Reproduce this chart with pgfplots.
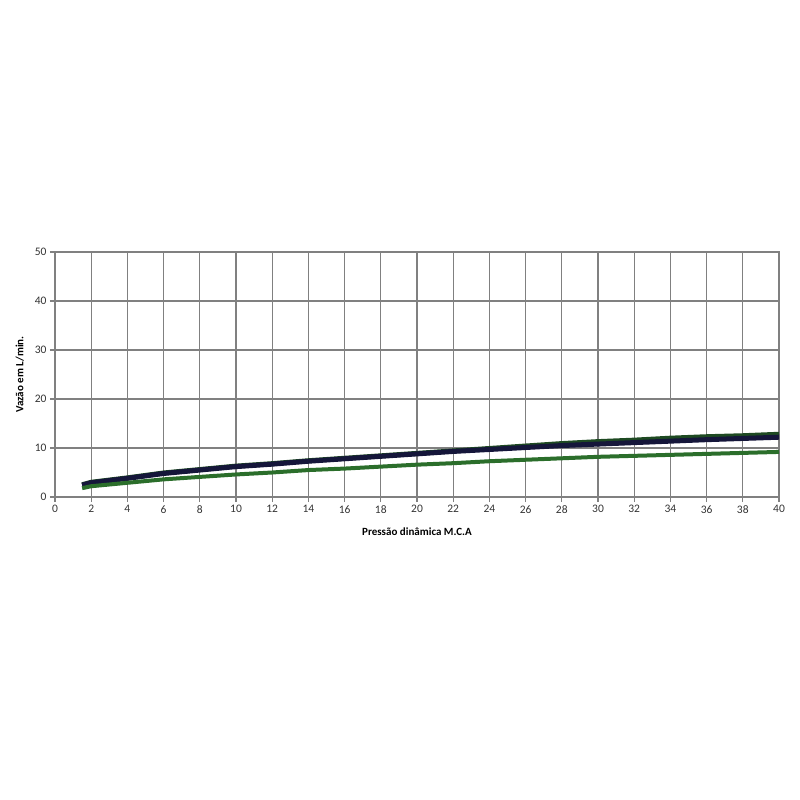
\documentclass[border=0pt]{standalone}
\usepackage{pgfplots}
\pgfplotsset{compat=1.18}
\usepackage{fontspec}
\setmainfont{Carlito}
\definecolor{gridgray}{HTML}{808080}
\definecolor{navyline}{HTML}{15163A}
\definecolor{darkgreen}{HTML}{1E4A22}
\definecolor{lowgreen}{HTML}{2B6E2B}
\begin{document}
\begin{tikzpicture}[font=\fontsize{11.5}{13}\selectfont]
\begin{axis}[
    at={(0,0)}, anchor=south west,
    scale only axis,
    width=724pt, height=245pt,
    xmin=0, xmax=40,
    ymin=0, ymax=50,
    xtick={0,2,...,40},
    ytick={0,10,...,50},
    grid=major,
    grid style={gridgray, line width=1.2pt},
    axis line style={gridgray, line width=1.2pt},
    tick style={gridgray, line width=1.2pt},
    tick align=outside,
    major tick length=5pt,
    xtick pos=bottom, ytick pos=left,
    /pgf/number format/assume math mode=true,
    ticklabel style={font=\fontsize{11.5}{13}\selectfont, text=black!80},
    xlabel={\textbf{Pressão dinâmica M.C.A}},
    ylabel={\textbf{Vazão em L/min.}},
    xlabel style={font=\fontsize{11}{13}\selectfont, yshift=-7pt},
    ylabel style={font=\fontsize{11}{13}\selectfont, yshift=4pt},
]
\addplot[darkgreen, line width=5pt] coordinates {
(1.5,2.5)(2,3.0)(4,3.9)(6,4.9)(8,5.6)(10,6.3)(12,6.8)(14,7.4)(16,7.9)(18,8.4)(20,8.9)(22,9.4)(24,9.9)(26,10.4)(28,10.9)(30,11.3)(32,11.6)(34,12.0)(36,12.3)(38,12.5)(40,12.8)
};
\addplot[navyline, line width=5pt] coordinates {
(1.5,2.4)(2,2.9)(4,3.8)(6,4.8)(8,5.5)(10,6.2)(12,6.7)(14,7.3)(16,7.8)(18,8.3)(20,8.8)(22,9.3)(24,9.7)(26,10.1)(28,10.5)(30,10.8)(32,11.1)(34,11.4)(36,11.7)(38,11.95)(40,12.2)
};
\addplot[lowgreen, line width=4pt] coordinates {
(1.5,1.8)(2,2.2)(4,2.9)(6,3.6)(8,4.1)(10,4.6)(12,5.0)(14,5.5)(16,5.8)(18,6.2)(20,6.6)(22,6.9)(24,7.3)(26,7.6)(28,7.9)(30,8.2)(32,8.4)(34,8.6)(36,8.8)(38,9.0)(40,9.2)
};
\end{axis}
\path[use as bounding box] (-55pt,-303pt) rectangle (745pt,497pt);
\end{tikzpicture}
\end{document}
